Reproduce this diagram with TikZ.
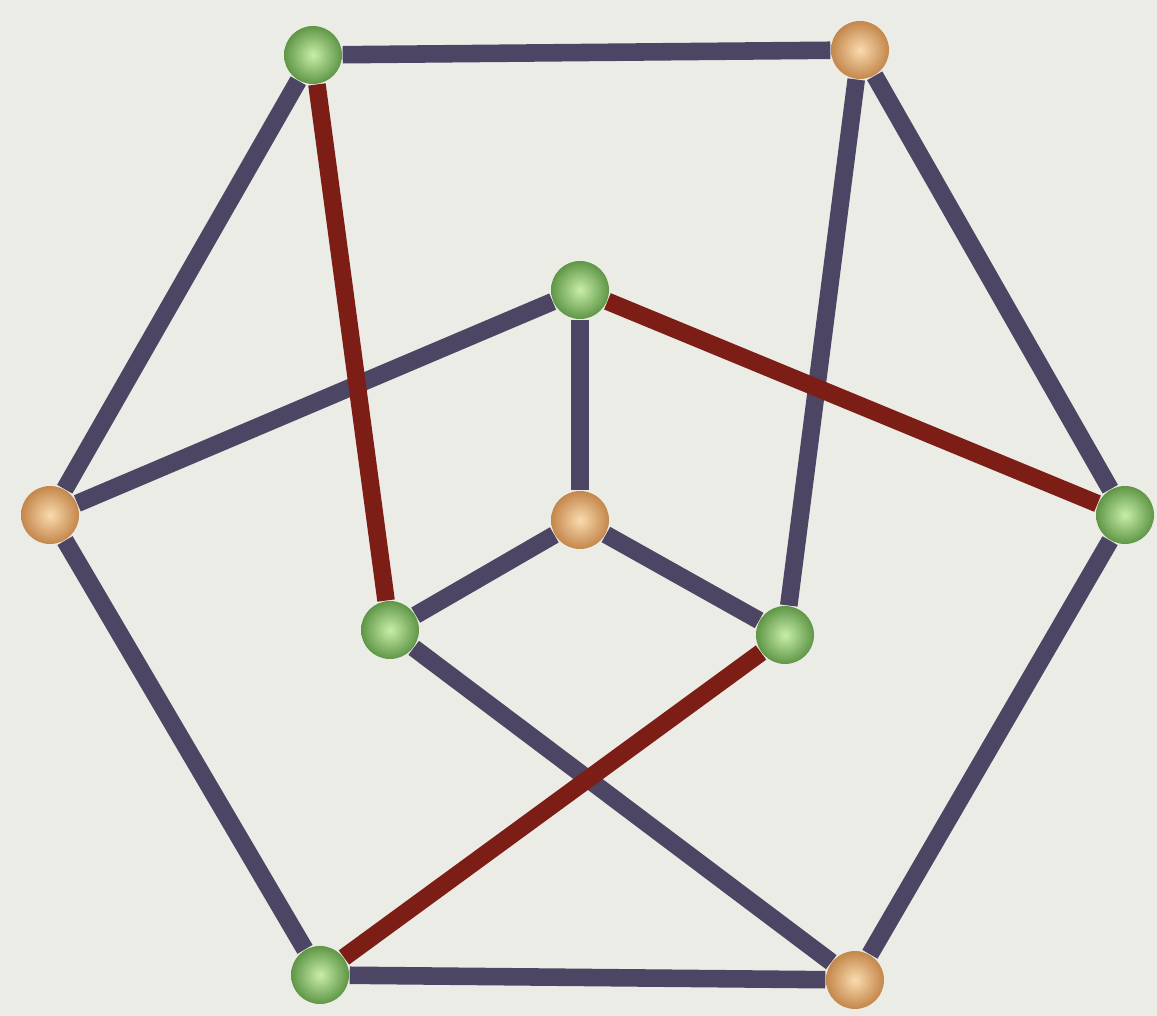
\documentclass[tikz,border=0pt]{standalone}
\usepackage{xcolor}
\usepackage{tikz}
\definecolor{bgcol}{RGB}{236,236,230}
\definecolor{edgeblue}{RGB}{76,70,100}
\definecolor{edgered}{RGB}{125,30,22}
\definecolor{greenin}{RGB}{200,238,170}
\definecolor{greenout}{RGB}{95,150,70}
\definecolor{orangein}{RGB}{250,218,175}
\definecolor{orangeout}{RGB}{195,135,75}

\begin{document}
\begin{tikzpicture}[
  vg/.style={circle,inner sep=0pt,minimum size=0.58cm,shading=radial,
             inner color=greenin,outer color=greenout},
  vo/.style={circle,inner sep=0pt,minimum size=0.58cm,shading=radial,
             inner color=orangein,outer color=orangeout},
  eb/.style={draw=edgeblue,line width=5pt},
  er/.style={draw=edgered,line width=5pt}
]
\fill[bgcol] (0,0) rectangle (11.57,10.16);
\useasboundingbox (0,0) rectangle (11.57,10.16);
% outer vertices
\node[vg] (tl) at (3.13,9.61) {};
\node[vo] (tr) at (8.60,9.66) {};
\node[vo] (l) at (0.50,5.01) {};
\node[vg] (r) at (11.25,5.01) {};
\node[vg] (bl) at (3.20,0.41) {};
\node[vo] (br) at (8.55,0.36) {};
% inner vertices
\node[vg] (ct) at (5.80,7.26) {};
\node[vo] (c) at (5.80,4.96) {};
\node[vg] (li) at (3.90,3.86) {};
\node[vg] (ri) at (7.85,3.81) {};
% blue edges
\draw[eb] (tl) -- (tr);
\draw[eb] (tl) -- (l);
\draw[eb] (tr) -- (r);
\draw[eb] (tr) -- (ri);
\draw[eb] (ct) -- (l);
\draw[eb] (ct) -- (c);
\draw[eb] (c) -- (li);
\draw[eb] (c) -- (ri);
\draw[eb] (l) -- (bl);
\draw[eb] (li) -- (br);
\draw[eb] (r) -- (br);
\draw[eb] (bl) -- (br);
% red edges
\draw[er] (tl) -- (li);
\draw[er] (ct) -- (r);
\draw[er] (ri) -- (bl);
\end{tikzpicture}
\end{document}
